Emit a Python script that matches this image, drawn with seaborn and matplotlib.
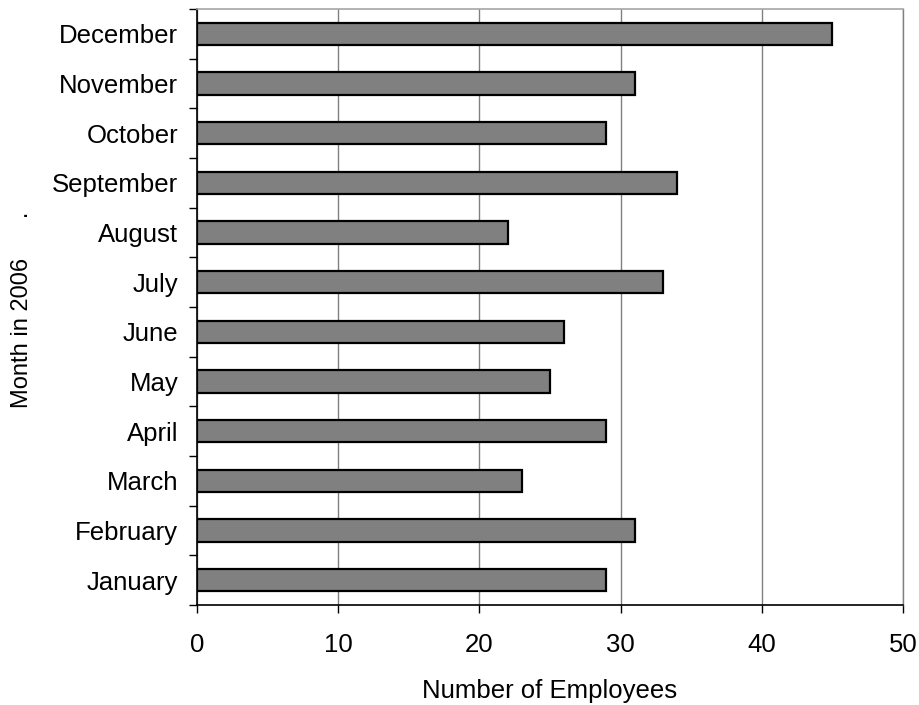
import matplotlib
matplotlib.use("Agg")
import matplotlib.pyplot as plt
from matplotlib.ticker import FixedLocator
import seaborn as sns
import pandas as pd

months = ["December", "November", "October", "September", "August", "July",
          "June", "May", "April", "March", "February", "January"]
employees = [45, 31, 29, 34, 22, 33, 26, 25, 29, 23, 31, 29]
x_ticks = [0, 10, 20, 30, 40, 50]

sns.set_theme(style="white")
plt.rcParams["font.family"] = ["Liberation Sans", "DejaVu Sans"]

df = pd.DataFrame({"month": months, "employees": employees})

fig = plt.figure(figsize=(9.2, 7.05), dpi=100)
ax = fig.add_axes([0.2141, 0.1418, 0.7674, 0.8454])

sns.barplot(data=df, x="employees", y="month", order=months, orient="h",
            color="#808080", saturation=1, width=0.45,
            edgecolor="black", linewidth=1.6, ax=ax, zorder=3)

ax.set_xlim(0, 50)
ax.set_ylim(len(months) - 0.5, -0.5)
ax.set_xticks(x_ticks)
ax.set_xticklabels([str(t) for t in x_ticks])

# vertical grid
ax.grid(False)
ax.xaxis.grid(True, color="#808080", linewidth=1.0, zorder=0)
ax.set_axisbelow(True)

fs = 18.5

# category boundaries carry the y tick marks
ax.yaxis.set_minor_locator(FixedLocator([i - 0.5 for i in range(len(months) + 1)]))
ax.tick_params(axis="y", which="major", length=0, pad=13.5, labelsize=fs,
               labelcolor="black")
ax.tick_params(axis="y", which="minor", left=True, length=6, width=1,
               color="black")
ax.tick_params(axis="x", which="major", bottom=True, length=6, width=1,
               color="black", pad=14, labelsize=fs, labelcolor="black")

for side in ["left", "bottom"]:
    ax.spines[side].set_color("black")
    ax.spines[side].set_linewidth(1.2)
ax.spines["top"].set_color("#a6a6a6")
ax.spines["top"].set_linewidth(1.2)
ax.spines["right"].set_color("#808080")
ax.spines["right"].set_linewidth(1.0)

ax.set_xlabel("Number of Employees", fontsize=fs, color="black", labelpad=16)
ax.set_ylabel("Month in 2006      .", fontsize=17, color="black")
ax.yaxis.set_label_coords(-0.232, 0.495)

fig.savefig("out.png", dpi=100, facecolor="white")
